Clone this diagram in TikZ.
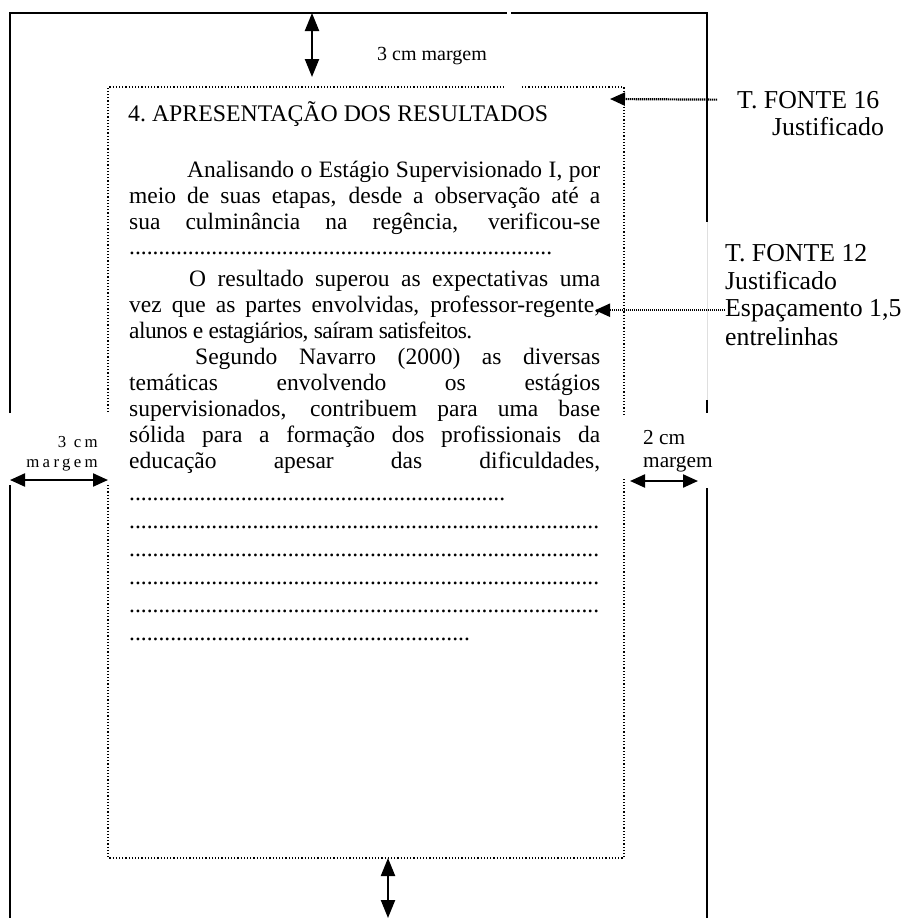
\documentclass[tikz,border=0pt]{standalone}
\usepackage{fontspec}
\setmainfont{Liberation Serif}
\usetikzlibrary{arrows.meta}

\newcommand{\pontos}[1]{\hbox to #1{\leaders\hbox{.}\hfill}}
\newcommand{\justo}[2]{\makebox[#1][s]{#2}}

\begin{document}
\begin{tikzpicture}[x=1pt, y=-1pt,
    corpo/.style={anchor=base west, inner sep=0pt, font=\fontsize{23.5}{26}\selectfont},
    rotulo/.style={anchor=base west, inner sep=0pt, font=\fontsize{25.8}{28}\selectfont}]
  \tikzset{moldura/.style = {line width=2pt}}
  \tikzset{pontilhado/.style = {line width=1.2pt, dash pattern=on 1.2pt off 2pt}}
  \tikzset{seta/.style = {-{Triangle[length=15pt, width=13pt]}, line width=2.2pt, dash pattern=on 1.2pt off 0.8pt}}
  \tikzset{setah/.style = {{Triangle[length=15pt, width=13pt]}-{Triangle[length=15pt, width=13pt]}, line width=2.2pt, dash pattern=on 1.2pt off 0.8pt}}
  \tikzset{setav/.style = {{Triangle[length=18pt, width=14pt]}-{Triangle[length=18pt, width=14pt]}, line width=2.2pt, dash pattern=on 1.2pt off 0.8pt}}

  \useasboundingbox (0,0) rectangle (909,918);

  % folha
  \draw[moldura] (10,413) -- (10,13) -- (507,13);
  \draw[moldura] (511,13) -- (707,13) -- (707,222);
  \draw[gray!25, line width=1pt] (707,222) -- (707,400);
  \draw[moldura] (707,400) -- (707,413);
  \draw[moldura] (10,485) -- (10,930);
  \draw[moldura] (707,488) -- (707,930);

  % caixa do texto
  \draw[pontilhado] (108,412) -- (108,87) -- (504,87);
  \draw[pontilhado] (522,87) -- (624,87) -- (624,415);
  \draw[pontilhado] (108,485) -- (108,858) -- (624,858) -- (624,478);

  % texto
  \node[corpo, font=\fontsize{23.8}{26}\selectfont] (tit) at (128,121) {4.\ APRESENTAÇÃO DOS RESULTADOS};
  \node[corpo] (p1a) at (187,177) {\justo{413pt}{Analisando o Estágio Supervisionado I, por}};
  \node[corpo] (p1b) at (129,203) {\justo{471pt}{meio de suas etapas, desde a observação até a}};
  \node[corpo] (p1c) at (129,229) {\justo{471pt}{sua culminância na regência, verificou-se}};
  \node[corpo] (p1d) at (129,254) {\pontos{424pt}};
  \node[corpo] (p2a) at (189,286) {\justo{411pt}{O resultado superou as expectativas uma}};
  \node[corpo] (p2b) at (129,312) {\justo{471pt}{vez que as partes envolvidas, professor-regente,}};
  \node[corpo] (p2c) at (129,338) {\addfontfeature{LetterSpace=-2.5}alunos e estagiários, saíram satisfeitos.};
  \node[corpo] (p3a) at (195,364) {\justo{405pt}{Segundo Navarro (2000) as diversas}};
  \node[corpo] (p3b) at (129,390) {\justo{471pt}{temáticas envolvendo os estágios}};
  \node[corpo] (p3c) at (129,416) {\justo{471pt}{supervisionados, contribuem para uma base}};
  \node[corpo] (p3d) at (129,442) {\justo{471pt}{sólida para a formação dos profissionais da}};
  \node[corpo] (p3e) at (129,468) {\justo{471pt}{educação apesar das dificuldades,}};
  \node[corpo] (d1) at (129,500) {\pontos{381pt}};
  \node[corpo] (d2) at (129,528) {\pontos{471pt}};
  \node[corpo] (d3) at (129,556) {\pontos{471pt}};
  \node[corpo] (d4) at (129,584) {\pontos{471pt}};
  \node[corpo] (d5) at (129,612) {\pontos{471pt}};
  \node[corpo] (d6) at (129,640) {\pontos{344pt}};

  % rotulos
  \node[rotulo] (f16) at (737,108) {T. FONTE 16};
  \node[rotulo] (j16) at (772,135) {Justificado};
  \node[rotulo] (f12) at (725,261) {T. FONTE 12};
  \node[rotulo] (j12) at (725,289) {Justificado};
  \node[rotulo] (esp) at (725,316) {Espaçamento 1,5};
  \node[rotulo] (entre) at (725,345) {entrelinhas};

  \node[anchor=base, inner sep=0pt, font=\fontsize{20}{22}\selectfont] (mtopo) at (432,60) {3 cm margem};
  \node[anchor=base east, inner sep=0pt, font=\fontsize{16.8}{18}\selectfont\addfontfeature{LetterSpace=20}] (mesq) at (98,447) {3 cm};
  \node[anchor=base east, inner sep=0pt, font=\fontsize{16.8}{18}\selectfont\addfontfeature{LetterSpace=20}] (mesq2) at (98,467) {margem};
  \node[anchor=base west, inner sep=0pt, font=\fontsize{21.3}{23}\selectfont] (mdir) at (643,444) {2 cm};
  \node[anchor=base west, inner sep=0pt, font=\fontsize{21.3}{23}\selectfont] (mdir2) at (643,467) {margem};

  % setas
  \coordinate (p16) at (610,99);
  \coordinate (p12) at (595,310);
  \draw[seta] ([xshift=-20pt]f16.west) -- (p16);
  \draw[seta] (esp.west) -- (esp.west -| p12);

  \coordinate (topo1) at (312,13);
  \coordinate (topo2) at (312,77);
  \coordinate (base1) at (388,858);
  \coordinate (base2) at (388,918);
  \coordinate (esq1) at (10,480);
  \coordinate (esq2) at (108,480);
  \coordinate (dir1) at (630,481);
  \coordinate (dir2) at (698,481);
  \draw[setav] (topo1) -- (topo2);
  \draw[setav] (base1) -- (base2);
  \draw[setah] (esq1) -- (esq2);
  \draw[setah] (dir1) -- (dir2);
\end{tikzpicture}
\end{document}
